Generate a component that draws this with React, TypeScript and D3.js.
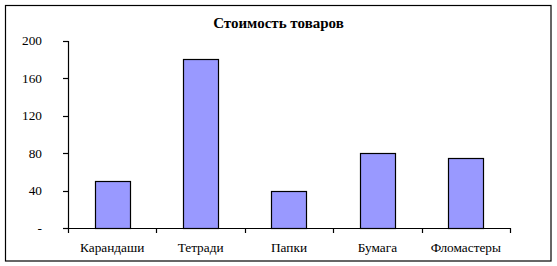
import React from "react";
import * as d3 from "d3";

const categories = ["Карандаши", "Тетради", "Папки", "Бумага", "Фломастеры"];
const values = [50, 180, 40, 80, 75];
const yTicks = [0, 40, 80, 120, 160, 200];
const yTickLabels = ["-", "40", "80", "120", "160", "200"];
const title = "Стоимость товаров";

const W = 557;
const H = 266;

export default function App() {
  const x0 = 68, x1 = 510, yBase = 228.3, yTop = 40.5;
  const x = d3.scaleBand<string>().domain(categories).range([x0, x1]).paddingInner(0.6).paddingOuter(0.3);
  const band = d3.scaleBand<string>().domain(categories).range([x0, x1]);
  const y = d3.scaleLinear().domain([0, 200]).range([yBase, yTop]);

  const boundaries = [...categories.map((c) => band(c) as number), x1];

  return (
    <svg width={W} height={H} style={{ position: "absolute", left: 0, top: 0, background: "#fff", fontFamily: "Liberation Serif" }}>
      <rect x={5.5} y={5.5} width={545.5} height={255.5} fill="#fff" stroke="#000" strokeWidth={1.2} />
      <text x={278.5} y={28.3} textAnchor="middle" style={{ fontFamily: "Liberation Serif", fontWeight: 700, fontSize: 15 }}>
        {title}
      </text>
      {values.map((v, i) => (
        <rect
          key={categories[i]}
          x={Math.round(x(categories[i]) as number) + 0.5}
          y={Math.round(y(v)) + 0.5}
          width={Math.round(x.bandwidth())}
          height={Math.round(yBase) - Math.round(y(v))}
          fill="#9999FF"
          stroke="#000"
          strokeWidth={1.2}
        />
      ))}
      <line x1={68.5} x2={68.5} y1={Math.round(yTop)} y2={Math.round(yBase) + 0.5} stroke="#000" strokeWidth={1.2} />
      {yTicks.map((t, i) => (
        <g key={t}>
          <line x1={63} x2={68.5} y1={Math.round(y(t)) + 0.5} y2={Math.round(y(t)) + 0.5} stroke="#000" strokeWidth={1.2} />
          <text x={42} y={y(t) + 4.5} textAnchor="end" style={{ fontFamily: "Liberation Serif", fontSize: 13.3 }}>
            {yTickLabels[i]}
          </text>
        </g>
      ))}
      <line x1={68} x2={x1 + 0.5} y1={Math.round(yBase) + 0.5} y2={Math.round(yBase) + 0.5} stroke="#000" strokeWidth={1.2} />
      {boundaries.map((b, i) => (
        <line key={i} x1={Math.round(b) + 0.5} x2={Math.round(b) + 0.5} y1={Math.round(yBase)} y2={Math.round(yBase) + 5} stroke="#000" strokeWidth={1.2} />
      ))}
      {categories.map((c) => (
        <text key={c} x={(band(c) as number) + band.bandwidth() / 2} y={251.5} textAnchor="middle" style={{ fontFamily: "Liberation Serif", fontSize: 13.3 }}>
          {c}
        </text>
      ))}
    </svg>
  );
}
